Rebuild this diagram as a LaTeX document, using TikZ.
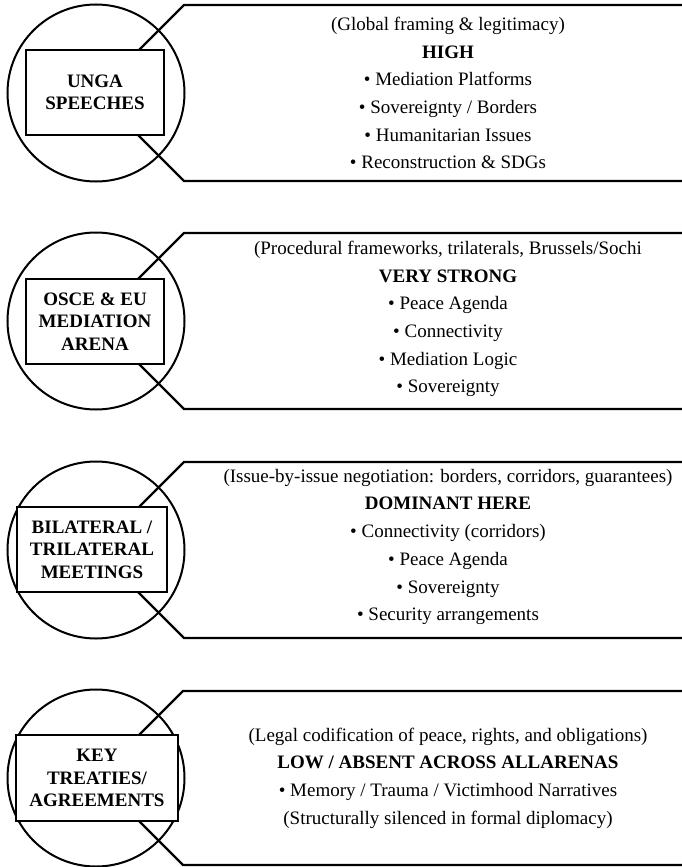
\documentclass[tikz,border=0pt]{standalone}
\usepackage{fontspec}
\setmainfont{Liberation Serif}
\begin{document}
\begin{tikzpicture}[x=1pt,y=-1pt,
  ring/.style={draw,line width=2pt,circle,minimum size=177pt,inner sep=0pt},
  tag/.style={draw,line width=2.4pt,fill=white,inner sep=0pt,align=center,
    font=\fontsize{19}{22.5}\selectfont\bfseries},
  body/.style={align=center,inner sep=0pt,font=\fontsize{19}{27.7}\selectfont},
  frame/.style={draw,line width=2.2pt,line join=miter}]
\useasboundingbox (0,0) rectangle (682,867);
% row 1
\node[ring] (c1) at (96,93) {};
\draw[frame] (682,5) -- (184,5) -- (c1.center) -- (184,181) -- (682,181);
\node[tag,minimum width=138pt,minimum height=85pt] (b1) at (95,92.5) {UNGA\\SPEECHES};
\node[body] (t1) at (448,93) {(Global framing \& legitimacy)\\\textbf{HIGH}\\• Mediation Platforms\\• Sovereignty / Borders\\• Humanitarian Issues\\• Reconstruction \& SDGs};
% row 2
\node[ring] (c2) at (96,321) {};
\draw[frame] (682,233) -- (184,233) -- (c2.center) -- (184,409) -- (682,409);
\node[tag,minimum width=138pt,minimum height=85pt] (b2) at (95,321.5) {OSCE \& EU\\MEDIATION\\ARENA};
\node[body] (t2) at (448,319) {(Procedural frameworks, trilaterals, Brussels/Sochi\\\textbf{VERY STRONG}\\• Peace Agenda\\• Connectivity\\• Mediation Logic\\• Sovereignty};
% row 3
\node[ring] (c3) at (96,550) {};
\draw[frame] (682,462) -- (184,462) -- (c3.center) -- (184,638) -- (682,638);
\node[tag,minimum width=150pt,minimum height=85pt] (b3) at (92,549.5) {BILATERAL /\\TRILATERAL\\MEETINGS};
\node[body] (t3) at (448,547) {(Issue-by-issue negotiation: borders, corridors, guarantees)\\\textbf{DOMINANT HERE}\\• Connectivity (corridors)\\• Peace Agenda\\• Sovereignty\\• Security arrangements};
% row 4
\node[ring] (c4) at (96,778) {};
\draw[frame] (682,691) -- (183,691) -- (c4.center) -- (183,865) -- (682,865);
\node[tag,minimum width=162pt,minimum height=86pt] (b4) at (97,778) {KEY\\TREATIES/\\AGREEMENTS};
\node[body] (t4) at (448,778) {(Legal codification of peace, rights, and obligations)\\\textbf{LOW / ABSENT ACROSS ALLARENAS}\\• Memory / Trauma / Victimhood Narratives\\(Structurally silenced in formal diplomacy)};
\end{tikzpicture}
\end{document}
